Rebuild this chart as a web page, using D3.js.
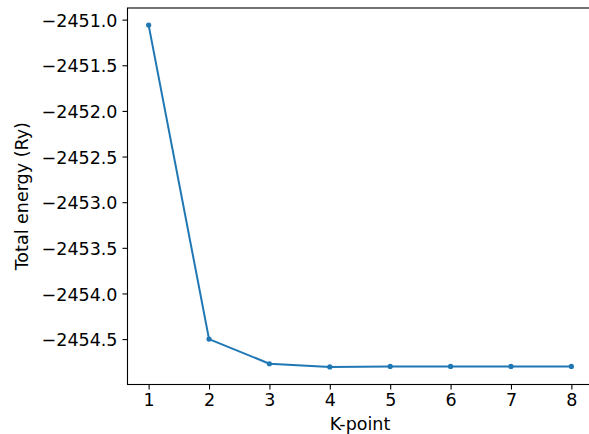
<!DOCTYPE html>
<html>
<head>
<meta charset="utf-8">
<script src="https://cdn.jsdelivr.net/npm/d3@7"></script>
<style>
  html, body { margin: 0; padding: 0; background: #fff; overflow: hidden; }
  text { font-family: "DejaVu Sans", sans-serif; fill: #000; }
</style>
</head>
<body>
<svg id="chart" width="589" height="434"></svg>
<script>
const kpoints = [1, 2, 3, 4, 5, 6, 7, 8];
const energies = [-2451.06, -2454.50, -2454.77, -2454.805, -2454.80, -2454.80, -2454.80, -2454.80];
const yTicks = [-2451.0, -2451.5, -2452.0, -2452.5, -2453.0, -2453.5, -2454.0, -2454.5];
const xTicks = [1, 2, 3, 4, 5, 6, 7, 8];
const xLabel = "K-point";
const yLabel = "Total energy (Ry)";

const svg = d3.select("#chart");
const mLeft = 127.5, mRight = 592.5, mTop = 8, mBottom = 384.5;
const fs = 17.5;

const x = d3.scaleLinear().domain([0.65, 8.35]).range([mLeft, mRight]);
const y = d3.scaleLinear().domain([-2454.9975, -2450.8725]).range([mBottom, mTop]);

const fmt = v => (v < 0 ? "\u2212" : "") + Math.abs(v).toFixed(1);

// line
const line = d3.line().x((d, i) => x(kpoints[i])).y(d => y(d));
svg.append("path")
  .datum(energies)
  .attr("d", line)
  .attr("fill", "none")
  .attr("stroke", "#1f77b4")
  .attr("stroke-width", 2)
  .attr("stroke-linejoin", "round")
  .attr("stroke-linecap", "square");

svg.selectAll("circle.pt")
  .data(energies)
  .enter().append("circle")
  .attr("class", "pt")
  .attr("cx", (d, i) => x(kpoints[i]))
  .attr("cy", d => y(d))
  .attr("r", 2.6)
  .attr("fill", "#1f77b4");

// axes
const yAxis = d3.axisLeft(y).tickValues(yTicks).tickFormat(fmt).tickSizeInner(5).tickSizeOuter(0).tickPadding(5);
const gy = svg.append("g").attr("transform", `translate(${mLeft},0)`).call(yAxis);
gy.select(".domain").remove();
gy.selectAll(".tick line").attr("stroke", "#000").attr("stroke-width", 1.1);
gy.selectAll(".tick text").attr("font-size", fs).attr("font-family", "DejaVu Sans").attr("dy", "0.38em");

const xAxis = d3.axisBottom(x).tickValues(xTicks).tickFormat(d3.format("d")).tickSizeInner(5).tickSizeOuter(0).tickPadding(4);
const gx = svg.append("g").attr("transform", `translate(0,${mBottom})`).call(xAxis);
gx.select(".domain").remove();
gx.selectAll(".tick line").attr("stroke", "#000").attr("stroke-width", 1.1);
gx.selectAll(".tick text").attr("font-size", fs).attr("font-family", "DejaVu Sans").attr("dy", "0.71em");

// spines
svg.append("rect")
  .attr("x", mLeft).attr("y", mTop)
  .attr("width", mRight - mLeft).attr("height", mBottom - mTop)
  .attr("fill", "none").attr("stroke", "#000").attr("stroke-width", 1.1);

// labels
svg.append("text")
  .attr("x", (mLeft + mRight) / 2).attr("y", 430)
  .attr("text-anchor", "middle").attr("font-size", fs)
  .text(xLabel);

svg.append("text")
  .attr("transform", `translate(28,${(mTop + mBottom) / 2}) rotate(-90)`)
  .attr("text-anchor", "middle").attr("font-size", fs)
  .text(yLabel);
</script>
</body>
</html>
